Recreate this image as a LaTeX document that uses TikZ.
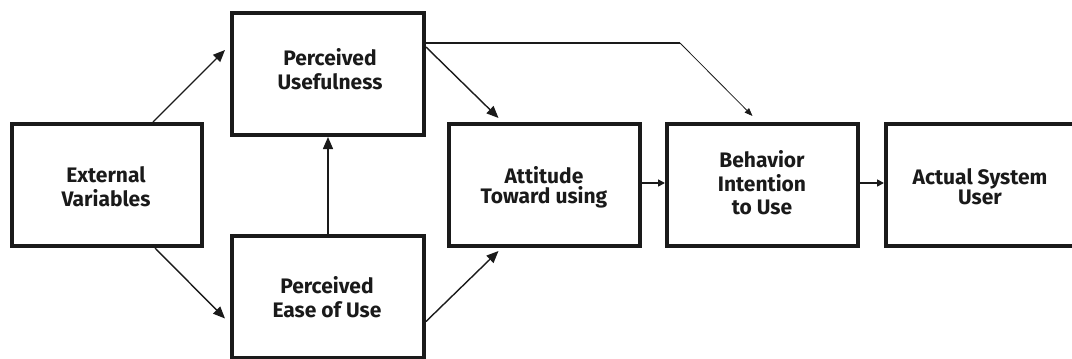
\documentclass[tikz,border=0pt]{standalone}
\usepackage{fontspec}
\setmainfont{Fira Sans}
\usetikzlibrary{arrows.meta}
\definecolor{ink}{HTML}{1A1A1A}
\tikzset{
  box/.style={draw=ink, line width=4pt, minimum width=191pt, minimum height=122pt, inner sep=0pt},
  txt/.style={text=ink, align=center, inner sep=0pt, font=\fontsize{21}{23.5}\selectfont\bfseries},
  tight/.style={font=\fontsize{21}{19.5}\selectfont\bfseries},
  arr/.style={draw=ink, line width=1.4pt, -{Triangle[length=12pt,width=10pt]}},
  shortarr/.style={draw=ink, line width=1.6pt, -{Triangle[length=7pt,width=7pt]}},
  thinarr/.style={draw=ink, line width=0.8pt, -{Triangle[length=8pt,width=6pt]}}
}
\begin{document}
\begin{tikzpicture}[x=1pt, y=-1pt]
\useasboundingbox (0,0) rectangle (1072,359);
\begin{scope}
\clip (0,0) rectangle (1072,359);
% boxes
\node[box, minimum width=190pt] (ev)   at (107,185)   {};
\node[box, minimum width=192pt] (pu)   at (328,74)    {};
\node[box, minimum width=192pt] (peou) at (328,296.5) {};
\node[box] (att) at (544.5,185) {};
\node[box] (beh) at (762.5,185) {};
\node[box, minimum width=190pt] (act) at (981,185) {};
% labels
\node[txt] (evt)   at (106,186.5) {External\\Variables};
\node[txt] (put)   at (330,69)    {Perceived\\Usefulness};
\node[txt] (peout) at (327,297)   {Perceived\\Ease of Use};
\node[txt, tight] (attt) at (544,187.5) {Attitude\\Toward using};
\node[txt] (beht) at (762,183) {Behavior\\Intention\\to Use};
\node[txt, tight] (actt) at (980,186.5) {Actual System\\User};
% connectors
\coordinate (bend) at (680,43);
\draw[arr] ([xshift=46pt]ev.north) -- ([xshift=-5pt,yshift=24pt]pu.west);
\draw[arr] ([xshift=48pt]ev.south) -- ([xshift=-5pt,yshift=-22pt]peou.west);
\draw[arr] (peou.north) -- (pu.south);
\draw[arr] ([yshift=27pt]pu.east) -- ([xshift=-46pt,yshift=4pt]att.north);
\draw[arr] ([yshift=-25pt]peou.east) -- ([xshift=-46pt,yshift=-3pt]att.south);
\draw[draw=ink, line width=1.8pt] ([yshift=31pt]pu.east) -- (bend);
\draw[thinarr] (bend) -- ([xshift=-10pt,yshift=6pt]beh.north);
\draw[shortarr] ([yshift=2pt]att.east) -- ([yshift=2pt]beh.west);
\draw[shortarr] ([yshift=2pt]beh.east) -- ([yshift=2pt]act.west);
\end{scope}
\end{tikzpicture}
\end{document}
